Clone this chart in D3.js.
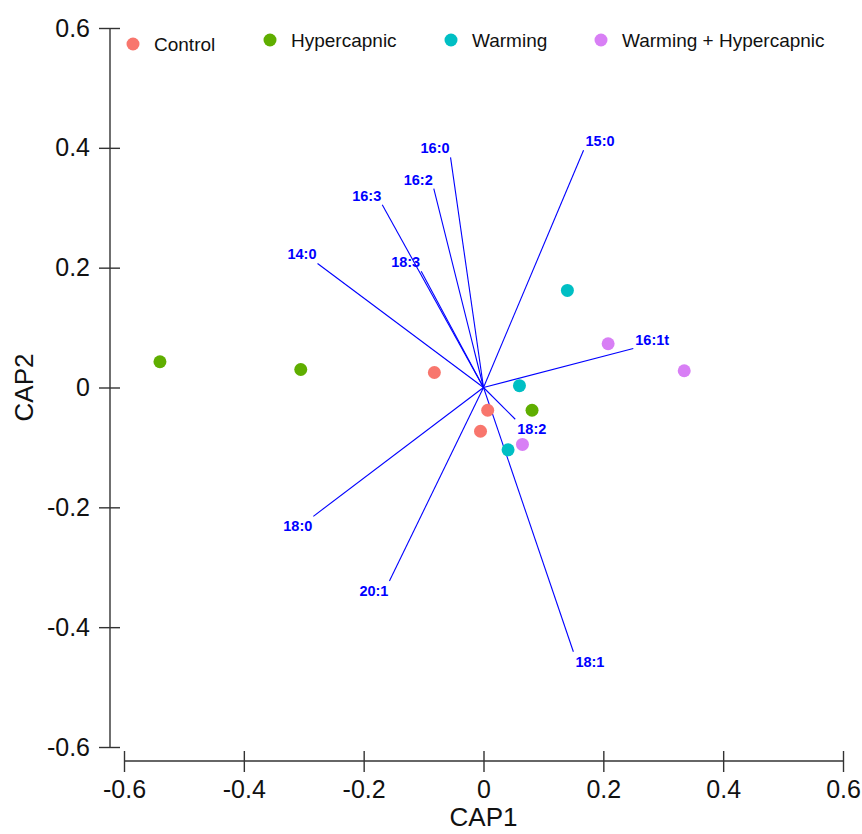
<!DOCTYPE html>
<html lang="en">
<head>
  <meta charset="UTF-8">
  <title>CAP ordination</title>
  <script src="https://d3js.org/d3.v7.min.js"></script>
  <style>
    body { margin: 0; background: #fff; font-family: "Liberation Sans", Arial, sans-serif; }
    .axis path, .axis line { stroke: #333; stroke-width: 1.4; }
    .axis text { font-size: 25px; fill: #111; font-family: "Liberation Sans", Arial, sans-serif; }
    .vec { stroke: #0000ff; stroke-width: 1.1; }
    .vlab { fill: #0000ff; font-size: 14.5px; font-weight: bold; }
  </style>
</head>
<body>
  <div id="chart"></div>
  <script>
    const groups = ["Control", "Hypercapnic", "Warming", "Warming + Hypercapnic"];
    const groupColors = ["#F8766D", "#5FAE00", "#00BFC4", "#D87FF5"];

    // sample scores (CAP1, CAP2) and their treatment
    const sampleGroup = [0, 0, 0, 1, 1, 1, 2, 2, 2, 3, 3, 3];
    const cap1 = [-0.082, 0.007, -0.005, -0.540, -0.305, 0.081, 0.140, 0.060, 0.041, 0.208, 0.335, 0.065];
    const cap2 = [0.025, -0.038, -0.073, 0.043, 0.030, -0.038, 0.162, 0.003, -0.104, 0.073, 0.028, -0.095];

    // fatty acid vectors
    const fattyAcids = ["15:0", "16:0", "16:2", "16:3", "14:0", "18:3", "16:1t", "18:2", "18:0", "20:1", "18:1"];
    const vecX = [0.167, -0.055, -0.083, -0.169, -0.277, -0.104, 0.250, 0.053, -0.284, -0.157, 0.150];
    const vecY = [0.396, 0.384, 0.332, 0.305, 0.207, 0.194, 0.065, -0.053, -0.215, -0.323, -0.441];

    const xTicks = [-0.6, -0.4, -0.2, 0, 0.2, 0.4, 0.6];
    const yTicks = [-0.6, -0.4, -0.2, 0, 0.2, 0.4, 0.6];

    const width = 862, height = 834;
    const fmt = d => d === 0 ? "0" : d3.format(".1f")(d).replace("\u2212", "-");

    const x = d3.scaleLinear().domain([-0.6, 0.6]).range([124, 843]);
    const y = d3.scaleLinear().domain([-0.6, 0.6]).range([747, 28]);

    const svg = d3.select("#chart").append("svg")
      .attr("width", width)
      .attr("height", height);

    // y axis (ticks crossing the line)
    const yAxisX = 110;
    const gy = svg.append("g")
      .attr("class", "axis")
      .attr("transform", `translate(${yAxisX},0)`)
      .call(d3.axisLeft(y).tickValues(yTicks).tickFormat(fmt).tickSizeOuter(0).tickSize(11).tickPadding(9));
    gy.select(".domain").attr("d", `M0,${y(0.6)}V${y(-0.6)}`);
    gy.selectAll(".tick line").attr("x1", 10);

    // x axis
    const xAxisY = 761;
    const gx = svg.append("g")
      .attr("class", "axis")
      .attr("transform", `translate(0,${xAxisY})`)
      .call(d3.axisBottom(x).tickValues(xTicks).tickFormat(fmt).tickSizeOuter(0).tickSize(11).tickPadding(8));
    gx.select(".domain").attr("d", `M${x(-0.6)},0H${x(0.6)}`);
    gx.selectAll(".tick line").attr("y1", -10);

    // axis titles
    svg.append("text")
      .attr("x", x(0))
      .attr("y", 826)
      .attr("text-anchor", "middle")
      .style("font-size", "26px")
      .style("fill", "#111")
      .text("CAP1");

    svg.append("text")
      .attr("transform", `translate(33,${y(0)}) rotate(-90)`)
      .attr("text-anchor", "middle")
      .style("font-size", "26px")
      .style("fill", "#111")
      .text("CAP2");

    // vectors
    const vecs = fattyAcids.map((n, i) => ({ name: n, x: vecX[i], y: vecY[i] }));

    svg.append("g")
      .selectAll("line")
      .data(vecs)
      .join("line")
      .attr("class", "vec")
      .attr("x1", x(0))
      .attr("y1", y(0))
      .attr("x2", d => x(d.x))
      .attr("y2", d => y(d.y));

    svg.append("g")
      .selectAll("text")
      .data(vecs)
      .join("text")
      .attr("class", "vlab")
      .attr("x", d => x(d.x) + (d.x < 0 ? -1 : 2))
      .attr("y", d => y(d.y) + (d.y > 0 ? -4 : 15))
      .attr("text-anchor", d => d.x < 0 ? "end" : "start")
      .text(d => d.name);

    // sample points
    const pts = cap1.map((v, i) => ({ x: v, y: cap2[i], g: sampleGroup[i] }));
    svg.append("g")
      .selectAll("circle")
      .data(pts)
      .join("circle")
      .attr("cx", d => x(d.x))
      .attr("cy", d => y(d.y))
      .attr("r", 6.5)
      .attr("fill", d => groupColors[d.g]);

    // legend
    const legX = [133, 270, 451, 601];
    const legY = [44, 40, 40, 40];
    const leg = svg.append("g")
      .selectAll("g")
      .data(groups)
      .join("g")
      .attr("transform", (d, i) => `translate(${legX[i]},${legY[i]})`);
    leg.append("circle")
      .attr("r", 6.5)
      .attr("fill", (d, i) => groupColors[i]);
    leg.append("text")
      .attr("x", 21)
      .attr("y", 7)
      .style("font-size", "19px")
      .style("fill", "#111")
      .text(d => d);
  </script>
</body>
</html>
